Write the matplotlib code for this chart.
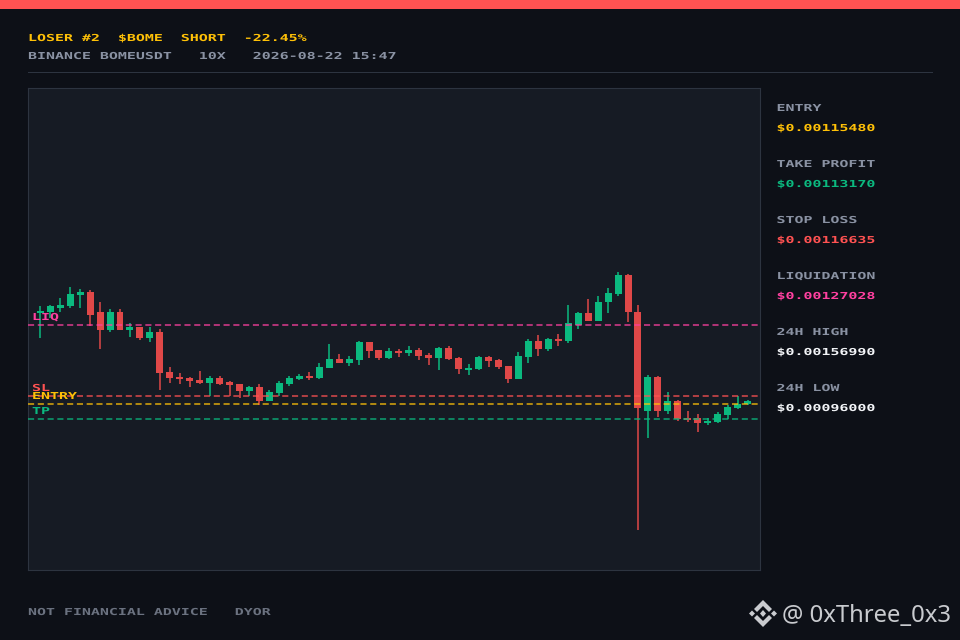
"""LOSER #2 short card: candles with entry / TP / SL / liquidation levels."""

import matplotlib
matplotlib.use('Agg')
import matplotlib.pyplot as plt
from matplotlib.patches import Polygon, Rectangle
from matplotlib.patheffects import AbstractPathEffect
from matplotlib.transforms import Affine2D

W, H = 960, 640

CLR_BG = '#0d1017'
CLR_PANEL = '#161b24'
CLR_EDGE = '#2d3440'
CLR_MUTED = '#8a92a3'
CLR_DIM = '#6b7280'
CLR_RED = '#ff5252'
CLR_CANDLE_RED = '#e04848'
CLR_GREEN = '#0bb97f'
CLR_GOLD = '#ffc107'
CLR_PINK = '#ff40a0'
CLR_WHITE = '#f2f4f7'

# prices in units of 1e-5 USDT
opens = [128.72, 129.01, 129.60, 129.75, 131.37, 131.82, 128.87, 126.36, 128.87, 126.36, 126.80, 125.18,
         126.07, 120.17, 119.43, 119.29, 118.99, 118.55, 119.29, 118.70, 118.40, 117.37, 117.96, 115.90,
         117.07, 118.40, 119.14, 119.58, 119.29, 120.76, 122.09, 121.50, 121.94, 124.59, 123.41, 122.23,
         123.27, 122.97, 123.41, 122.68, 122.23, 123.71, 122.23, 120.47, 120.61, 122.38, 121.94, 121.06,
         119.14, 122.38, 124.74, 123.56, 125.04, 124.74, 127.10, 128.72, 127.69, 130.34, 131.52, 134.32,
         129.01, 114.42, 119.43, 114.42, 115.90, 113.39, 113.39, 112.65, 112.80, 113.83, 114.86, 115.45]
closes = [129.16, 129.75, 129.90, 131.52, 131.82, 128.57, 126.36, 128.87, 126.36, 126.80, 125.18, 126.07,
          120.02, 119.29, 119.14, 118.84, 118.55, 119.29, 118.40, 118.25, 117.37, 117.96, 115.90, 117.22,
          118.55, 119.29, 119.58, 119.29, 120.91, 122.09, 121.50, 122.09, 124.59, 123.27, 122.23, 123.27,
          122.97, 123.41, 122.53, 122.23, 123.71, 122.09, 120.61, 120.76, 122.38, 121.79, 120.91, 119.14,
          122.53, 124.74, 123.56, 125.04, 124.74, 127.25, 128.72, 127.69, 130.34, 131.67, 134.32, 128.87,
          114.86, 119.43, 114.42, 115.90, 113.24, 113.10, 112.65, 112.95, 113.98, 115.01, 115.45, 115.90]
highs = [129.75, 129.90, 130.93, 132.55, 132.26, 132.11, 130.34, 129.31, 129.31, 127.25, 126.80, 126.80,
         126.51, 120.91, 120.02, 119.43, 120.32, 119.58, 119.58, 118.84, 118.40, 118.11, 118.40, 117.52,
         118.84, 119.58, 119.88, 120.17, 121.50, 124.30, 122.82, 122.53, 124.74, 124.59, 123.41, 123.71,
         123.56, 124.00, 123.71, 122.97, 123.86, 124.00, 122.38, 121.35, 122.53, 122.53, 122.09, 121.06,
         123.12, 125.04, 125.62, 125.18, 125.77, 129.90, 129.01, 130.78, 131.23, 132.40, 134.76, 134.47,
         129.90, 119.73, 119.58, 117.22, 116.04, 114.42, 113.98, 113.39, 114.27, 115.31, 116.63, 116.04]
lows = [125.18, 128.13, 128.87, 129.60, 129.46, 126.95, 123.56, 126.07, 126.36, 125.33, 124.89, 124.59,
        117.52, 118.55, 118.40, 117.96, 118.40, 116.63, 118.25, 116.63, 116.34, 116.63, 115.31, 115.90,
        116.63, 118.11, 118.99, 118.99, 119.14, 120.76, 121.50, 121.06, 121.20, 122.23, 121.94, 122.09,
        122.38, 122.53, 121.94, 121.20, 120.47, 121.94, 119.88, 119.73, 120.47, 120.91, 120.61, 118.55,
        119.14, 121.50, 122.53, 123.27, 124.00, 124.45, 126.51, 127.69, 127.69, 128.72, 131.23, 127.54,
        96.88, 110.44, 113.54, 113.98, 112.95, 112.80, 111.33, 112.36, 112.65, 113.24, 114.72, 115.31]

level_names = ['LIQ', 'SL', 'ENTRY', 'TP']
level_prices = [127.028, 116.635, 115.480, 113.170]
level_colors = [CLR_PINK, CLR_RED, CLR_GOLD, CLR_GREEN]
level_label_y = [320, 391, 399, 414]

panel_labels = ['ENTRY', 'TAKE PROFIT', 'STOP LOSS', 'LIQUIDATION', '24H HIGH', '24H LOW']
panel_values = ['$0.00115480', '$0.00113170', '$0.00116635', '$0.00127028', '$0.00156990', '$0.00096000']
panel_colors = [CLR_GOLD, CLR_GREEN, CLR_RED, CLR_PINK, CLR_WHITE, CLR_WHITE]


class StretchX(AbstractPathEffect):
    # widen glyphs so the mono font gets the 9px pixel-font pitch
    def __init__(self, sx):
        super().__init__()
        self.sx = sx

    def draw_path(self, renderer, gc, tpath, affine, rgbFace=None):
        renderer.draw_path(gc, tpath, Affine2D().scale(self.sx, 1) + affine, rgbFace)


STRETCH = [StretchX(1.558)]


def pixel_text(fig, x, y, s, color):
    fig.text(x / W, 1 - y / H, s, color=color, fontsize=6.9, family='DejaVu Sans Mono',
             fontweight='bold', va='baseline', ha='left', parse_math=False,
             path_effects=STRETCH)


fig = plt.figure(figsize=(W / 100, H / 100), dpi=100, facecolor=CLR_BG)

# top bar and header rule
fig.add_artist(Rectangle((0, 1 - 9 / H), 1, 9 / H, transform=fig.transFigure, color=CLR_RED, lw=0))
fig.add_artist(Rectangle((28 / W, 1 - 73 / H), 905 / W, 1 / H, transform=fig.transFigure,
                         color=CLR_EDGE, lw=0))

pixel_text(fig, 28, 41, 'LOSER #2  $BOME  SHORT  -22.45%', CLR_GOLD)
pixel_text(fig, 28, 59, 'BINANCE BOMEUSDT   10X   2026-08-22 15:47', CLR_MUTED)
pixel_text(fig, 28, 615, 'NOT FINANCIAL ADVICE   DYOR', CLR_DIM)

# chart panel
ax = fig.add_axes([28 / W, 1 - 570 / H, 732 / W, 482 / H], facecolor=CLR_PANEL)
for spine in ax.spines.values():
    spine.set_color(CLR_EDGE)
    spine.set_linewidth(0.8)
ax.set_xticks([])
ax.set_yticks([])
ax.set_xlim(-1.235, 72.25)
ax.set_ylim(90.99, 161.89)

xs = list(range(len(opens)))
colors = [CLR_GREEN if c >= o else CLR_CANDLE_RED for o, c in zip(opens, closes)]
ax.vlines(xs, lows, highs, colors=colors, linewidth=1.1, zorder=2)
ax.bar(xs, [c - o for o, c in zip(opens, closes)], bottom=opens, width=0.7, color=colors,
       linewidth=0, zorder=3)

for price, color in zip(level_prices, level_colors):
    ax.axhline(price, color=color, lw=1.1, alpha=0.85, dashes=(4, 2.4), zorder=4)

for name, color, y in zip(level_names, level_colors, level_label_y):
    pixel_text(fig, 32, y, name, color)

# right column
for i, (label, value, color) in enumerate(zip(panel_labels, panel_values, panel_colors)):
    pixel_text(fig, 776.5, 111 + i * 56, label, CLR_MUTED)
    pixel_text(fig, 776.5, 131 + i * 56, value, color)

# watermark
CLR_MARK = '#c9cbcf'
logo = [[(763, 600), (772, 609), (769, 612), (763, 606), (757, 612), (754, 609)],
        [(763, 627), (772, 618), (769, 615), (763, 621), (757, 615), (754, 618)],
        [(763, 610), (766, 613.5), (763, 617), (760, 613.5)],
        [(752, 610.5), (755, 613.5), (752, 616.5), (749, 613.5)],
        [(774, 610.5), (777, 613.5), (774, 616.5), (771, 613.5)]]
for pts in logo:
    fig.add_artist(Polygon([(px / W, 1 - py / H) for px, py in pts], closed=True,
                           transform=fig.transFigure, color=CLR_MARK, lw=0))
fig.text(782 / W, 1 - 622 / H, '@ 0xThree_0x3', color=CLR_MARK, fontsize=17.2, family='Noto Sans',
         va='baseline', ha='left')

fig.savefig('out.png', dpi=100, facecolor=CLR_BG)
